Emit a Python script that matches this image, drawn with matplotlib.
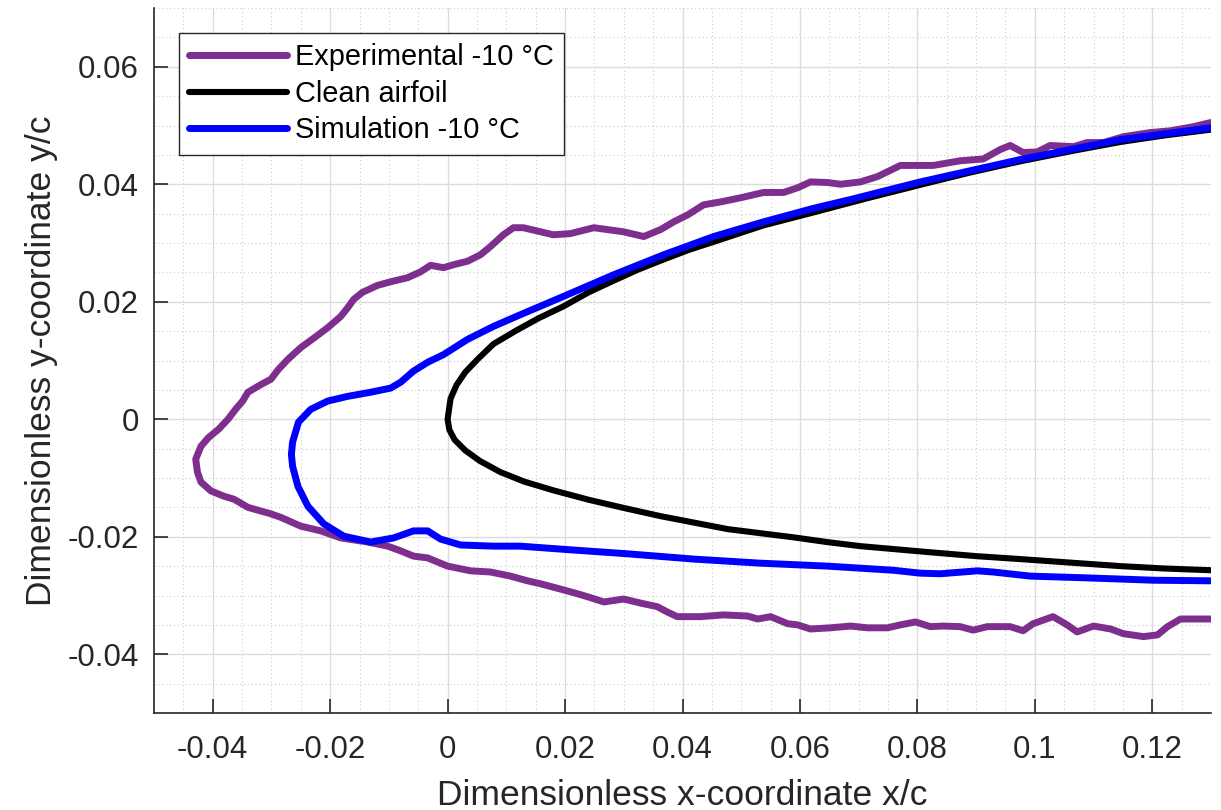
import numpy as np
import matplotlib.pyplot as plt
from matplotlib.ticker import MultipleLocator

# experimental ice shape, -10 C (upper surface right->left, then lower surface left->right)
exp_x = [0.1299, 0.1270, 0.1231, 0.1197, 0.1151, 0.1117, 0.1089, 0.1066, 0.1026, 0.1004,
         0.0980, 0.0958, 0.0941, 0.0912, 0.0873, 0.0827, 0.0771, 0.0732, 0.0703, 0.0669,
         0.0647, 0.0618, 0.0596, 0.0572, 0.0538, 0.0499, 0.0465, 0.0436, 0.0409, 0.0385,
         0.0363, 0.0334, 0.0300, 0.0249, 0.0209, 0.0180, 0.0129, 0.0112, 0.0095, 0.0073,
         0.0056, 0.0034, 0.0010, -0.0007, -0.0029, -0.0046, -0.0068, -0.0097, -0.0119, -0.0145,
         -0.0160, -0.0170, -0.0182, -0.0204, -0.0228, -0.0250, -0.0272, -0.0288, -0.0301, -0.0318,
         -0.0340, -0.0349, -0.0361, -0.0374, -0.0390, -0.0407, -0.0420, -0.0429, -0.0426, -0.0420,
         -0.0403, -0.0381, -0.0364, -0.0340, -0.0301, -0.0284, -0.0250, -0.0216, -0.0182, -0.0136,
         -0.0102, -0.0080, -0.0058, -0.0034, 0.0000, 0.0039, 0.0073, 0.0107, 0.0136, 0.0158,
         0.0192, 0.0221, 0.0238, 0.0266, 0.0300, 0.0329, 0.0357, 0.0374, 0.0391, 0.0431,
         0.0470, 0.0511, 0.0528, 0.0550, 0.0579, 0.0596, 0.0618, 0.0652, 0.0686, 0.0715,
         0.0749, 0.0771, 0.0797, 0.0822, 0.0844, 0.0873, 0.0895, 0.0919, 0.0958, 0.0980,
         0.0997, 0.1031, 0.1055, 0.1072, 0.1100, 0.1129, 0.1151, 0.1185, 0.1209, 0.1226,
         0.1248, 0.1300]
exp_y = [0.0505, 0.0498, 0.0491, 0.0488, 0.0481, 0.0471, 0.0471, 0.0464, 0.0466, 0.0455,
         0.0454, 0.0466, 0.0459, 0.0443, 0.0440, 0.0432, 0.0432, 0.0413, 0.0404, 0.0400,
         0.0403, 0.0404, 0.0394, 0.0386, 0.0386, 0.0377, 0.0370, 0.0365, 0.0348, 0.0336,
         0.0323, 0.0311, 0.0319, 0.0326, 0.0316, 0.0314, 0.0326, 0.0326, 0.0314, 0.0294,
         0.0280, 0.0269, 0.0263, 0.0258, 0.0262, 0.0251, 0.0241, 0.0234, 0.0228, 0.0216,
         0.0204, 0.0190, 0.0175, 0.0156, 0.0138, 0.0122, 0.0102, 0.0085, 0.0068, 0.0059,
         0.0046, 0.0031, 0.0017, 0.0000, -0.0017, -0.0031, -0.0046, -0.0068, -0.0090, -0.0107,
         -0.0122, -0.0131, -0.0136, -0.0150, -0.0161, -0.0167, -0.0182, -0.0190, -0.0202, -0.0209,
         -0.0216, -0.0224, -0.0233, -0.0236, -0.0250, -0.0258, -0.0260, -0.0267, -0.0275, -0.0280,
         -0.0289, -0.0297, -0.0302, -0.0311, -0.0306, -0.0313, -0.0319, -0.0328, -0.0336, -0.0336,
         -0.0333, -0.0335, -0.0340, -0.0336, -0.0348, -0.0350, -0.0357, -0.0355, -0.0352, -0.0355,
         -0.0355, -0.0350, -0.0345, -0.0353, -0.0352, -0.0353, -0.0359, -0.0353, -0.0353, -0.0360,
         -0.0348, -0.0336, -0.0350, -0.0362, -0.0352, -0.0357, -0.0365, -0.0370, -0.0367, -0.0353,
         -0.0340, -0.0340]

# clean airfoil contour (upper right->nose->lower right)
clean_x = [0.1300, 0.1220, 0.1146, 0.1060, 0.0975, 0.0890, 0.0805, 0.0710, 0.0623, 0.0538,
           0.0453, 0.0410, 0.0368, 0.0325, 0.0283, 0.0240, 0.0197, 0.0155, 0.0115, 0.0078,
           0.0051, 0.0030, 0.0015, 0.0005, 0.0000, 0.0003, 0.0012, 0.0030, 0.0055, 0.0090,
           0.0130, 0.0180, 0.0240, 0.0300, 0.0363, 0.0420, 0.0477, 0.0533, 0.0589, 0.0646,
           0.0703, 0.0760, 0.0817, 0.0900, 0.0975, 0.1060, 0.1146, 0.1220, 0.1300]
clean_y = [0.0493, 0.0483, 0.0472, 0.0456, 0.0439, 0.0420, 0.0399, 0.0375, 0.0352, 0.0330,
           0.0302, 0.0288, 0.0272, 0.0255, 0.0236, 0.0216, 0.0192, 0.0172, 0.0150, 0.0128,
           0.0102, 0.0080, 0.0058, 0.0035, 0.0000, -0.0018, -0.0035, -0.0053, -0.0071, -0.0090,
           -0.0106, -0.0121, -0.0137, -0.0151, -0.0165, -0.0176, -0.0187, -0.0194, -0.0201, -0.0209,
           -0.0216, -0.0221, -0.0226, -0.0233, -0.0238, -0.0244, -0.0250, -0.0254, -0.0257]

# simulated ice shape, -10 C
sim_x = [0.1299, 0.1146, 0.0975, 0.0805, 0.0686, 0.0623, 0.0538, 0.0453, 0.0368, 0.0283,
         0.0197, 0.0124, 0.0078, 0.0034, -0.0007, -0.0034, -0.0058, -0.0080, -0.0097, -0.0131,
         -0.0170, -0.0204, -0.0233, -0.0254, -0.0264, -0.0266, -0.0264, -0.0255, -0.0238, -0.0211,
         -0.0177, -0.0131, -0.0092, -0.0058, -0.0034, -0.0012, 0.0022, 0.0078, 0.0124, 0.0192,
         0.0306, 0.0419, 0.0533, 0.0647, 0.0759, 0.0805, 0.0839, 0.0902, 0.0929, 0.0992,
         0.1089, 0.1202, 0.1299]
sim_y = [0.0496, 0.0476, 0.0442, 0.0404, 0.0374, 0.0359, 0.0336, 0.0311, 0.0280, 0.0246,
         0.0209, 0.0178, 0.0158, 0.0136, 0.0110, 0.0097, 0.0082, 0.0063, 0.0053, 0.0046,
         0.0039, 0.0031, 0.0017, -0.0005, -0.0039, -0.0060, -0.0080, -0.0114, -0.0148, -0.0178,
         -0.0199, -0.0209, -0.0202, -0.0190, -0.0190, -0.0204, -0.0214, -0.0216, -0.0216, -0.0221,
         -0.0229, -0.0238, -0.0245, -0.0250, -0.0257, -0.0262, -0.0263, -0.0258, -0.0260, -0.0267,
         -0.0270, -0.0274, -0.0275]

labels = ['Experimental -10 °C', 'Clean airfoil', 'Simulation -10 °C']
colors = ['#7E2F8E', 'black', 'blue']

plt.rcParams['font.family'] = ['Liberation Sans', 'DejaVu Sans']
txt = '#262626'

fig = plt.figure(figsize=(12.21, 8.10), dpi=100)
ax = fig.add_axes([154/1221, 97/810, 1057/1221, 705/810])

ax.plot(exp_x, exp_y, color=colors[0], lw=5.0, label=labels[0],
        solid_joinstyle='round', solid_capstyle='round')
ax.plot(clean_x, clean_y, color=colors[1], lw=4.4, label=labels[1],
        solid_joinstyle='round', solid_capstyle='round')
ax.plot(sim_x, sim_y, color=colors[2], lw=5.0, label=labels[2],
        solid_joinstyle='round', solid_capstyle='round')

ax.set_xlim(-0.05, 0.13)
ax.set_ylim(-0.05, 0.07)
ax.xaxis.set_minor_locator(MultipleLocator(0.005))
ax.yaxis.set_minor_locator(MultipleLocator(0.005))
ax.set_xticks(np.arange(-0.04, 0.13, 0.02))
ax.set_xticklabels(['-0.04', '-0.02', '0', '0.02', '0.04', '0.06', '0.08', '0.1', '0.12'])
ax.set_yticks(np.arange(-0.04, 0.07, 0.02))
ax.set_yticklabels(['-0.04', '-0.02', '0', '0.02', '0.04', '0.06'])

ax.set_axisbelow(True)
ax.grid(which='major', color='#dcdcdc', lw=1.0, ls='-')
ax.grid(which='minor', color='#cccccc', lw=0.8, ls=(0, (1, 2.5)))

for s in ['top', 'right']:
    ax.spines[s].set_visible(False)
for s in ['left', 'bottom']:
    ax.spines[s].set_color(txt)
    ax.spines[s].set_linewidth(1.2)

ax.tick_params(which='major', direction='in', length=10, width=1.2, colors=txt, labelsize=22.5)
ax.tick_params(which='minor', length=0)
ax.tick_params(axis='x', pad=16)
ax.tick_params(axis='y', pad=11)

ax.set_xlabel('Dimensionless x-coordinate x/c', fontsize=25.5, color=txt, labelpad=10)
ax.set_ylabel('Dimensionless y-coordinate y/c', fontsize=25.5, color=txt, labelpad=7)

leg = ax.legend(loc='upper left', bbox_to_anchor=(0.0237, 0.9645), borderaxespad=0,
                fontsize=20.8, handlelength=3.4, handletextpad=0.25, labelspacing=0.3,
                borderpad=0.35, fancybox=False, framealpha=1, edgecolor=txt)
leg.get_frame().set_linewidth(1.0)

plt.savefig('out.png', dpi=100)
